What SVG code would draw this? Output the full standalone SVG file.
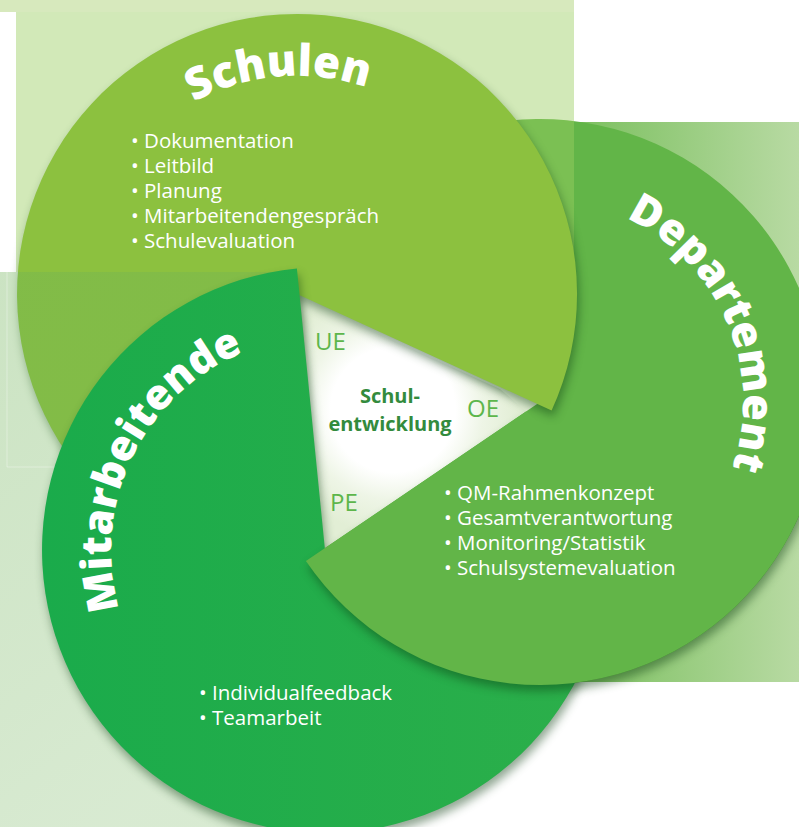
<svg xmlns="http://www.w3.org/2000/svg" width="799" height="827" viewBox="0 0 799 827">
<defs>
<style>
.t{font-family:"Open Sans","Noto Sans","Liberation Sans",sans-serif;fill:#fff;font-size:20.5px}
.title{font-family:"Open Sans","Noto Sans","Liberation Sans",sans-serif;font-weight:800;fill:#fff}
.abbr{font-family:"Open Sans","Noto Sans","Liberation Sans",sans-serif;font-size:24px;fill:#5db64b}
.core{font-family:"Open Sans","Noto Sans","Liberation Sans",sans-serif;font-weight:700;font-size:20px;fill:#338b3d;text-anchor:middle}
</style>
<linearGradient id="gRight" x1="0" y1="0" x2="1" y2="0"><stop offset="0" stop-color="#6cb94e"/><stop offset="1" stop-color="#b8daa3"/></linearGradient>
<linearGradient id="gLeft" x1="0" y1="0" x2="0.4" y2="1"><stop offset="0" stop-color="#6fb257" stop-opacity="0.36"/><stop offset="1" stop-color="#6fb257" stop-opacity="0.27"/></linearGradient>
<linearGradient id="gMit" x1="0" y1="0" x2="1" y2="0"><stop offset="0" stop-color="#1aab4b"/><stop offset="1" stop-color="#2caf4a"/></linearGradient>
<radialGradient id="gCore" cx="393" cy="410" r="125" gradientUnits="userSpaceOnUse"><stop offset="0" stop-color="#fff"/><stop offset="0.5" stop-color="#fff"/><stop offset="0.72" stop-color="#eef5e6"/><stop offset="1" stop-color="#e2eed5"/></radialGradient>
<filter id="sh" x="-10%" y="-10%" width="125%" height="125%" color-interpolation-filters="sRGB">
<feGaussianBlur in="SourceAlpha" stdDeviation="5"/>
<feOffset dx="2" dy="6" result="o"/>
<feFlood flood-color="#0b3d10" flood-opacity="0.45"/>
<feComposite in2="o" operator="in"/>
<feMerge><feMergeNode/><feMergeNode in="SourceGraphic"/></feMerge>
</filter>
<path id="pD" d="M540 402 L287.8 273.5 A283 283 0 1 1 305.9 561.1 Z"/>
<path id="pS" d="M297 294 L316.5 573.3 A280 280 0 1 1 551.6 410.6 Z"/>
<path id="pM" d="M325 550 L598.4 476.8 A283 283 0 1 1 296.9 268.4 Z"/>
<clipPath id="cpLow"><polygon points="0,162 500,389 585,462 799,462 799,827 0,827"/></clipPath>
<path id="arcS" d="M82.2 331.1 A218 218 0 1 1 515 294.8"/>
<path id="arcD" d="M444.7 222.8 A203 203 0 1 1 602.7 595.1"/>
<path id="arcM" d="M249 750.1 A214 214 0 1 1 434.6 366.2"/>
</defs>

<g id="background">
<rect x="519" y="122" width="280" height="560" fill="url(#gRight)"/>
<polygon points="294,260 566,415 318,585" fill="url(#gCore)"/>
</g>

<g id="departement-base">
<use href="#pD" fill="#62b548"/>
</g>

<g id="top-panel">
<rect x="16" y="0" width="558" height="272" fill="#9bce62" fill-opacity="0.45"/>
<rect x="0" y="0" width="574" height="12" fill="#d7e9bd"/>
</g>

<g id="schulen">
<use href="#pS" fill="#8cc13f" filter="url(#sh)"/>
<text class="title" font-size="44"><textPath href="#arcS" startOffset="50%" text-anchor="middle">Schulen</textPath></text>
<text class="t" x="131" y="148">• Dokumentation</text>
<text class="t" x="131" y="173">• Leitbild</text>
<text class="t" x="131" y="198">• Planung</text>
<text class="t" x="131" y="223">• Mitarbeitendengespräch</text>
<text class="t" x="131" y="248">• Schulevaluation</text>
</g>

<g id="left-panel">
<rect x="0" y="272" width="297" height="555" fill="url(#gLeft)"/>
<path d="M7 272 V467 H60" fill="none" stroke="#ffffff" stroke-opacity="0.35" stroke-width="1"/>
</g>

<g id="mitarbeitende">
<use href="#pM" fill="url(#gMit)" filter="url(#sh)"/>
<text class="title" font-size="42"><textPath href="#arcM" startOffset="50%" text-anchor="middle">Mitarbeitende</textPath></text>
<text class="t" x="199" y="700">• Individualfeedback</text>
<text class="t" x="199" y="725">• Teamarbeit</text>
</g>

<g id="departement">
<g clip-path="url(#cpLow)"><use href="#pD" fill="#62b548" filter="url(#sh)"/></g>
<text class="title" font-size="43"><textPath href="#arcD" startOffset="50%" text-anchor="middle">Departement</textPath></text>
<text class="t" x="444" y="500">• QM-Rahmenkonzept</text>
<text class="t" x="444" y="525">• Gesamtverantwortung</text>
<text class="t" x="444" y="550">• Monitoring/Statistik</text>
<text class="t" x="444" y="575">• Schulsystemevaluation</text>
</g>

<g id="schulentwicklung">
<text class="abbr" x="315" y="350">UE</text>
<text class="abbr" x="467" y="417">OE</text>
<text class="abbr" x="330" y="511">PE</text>
<text class="core" x="390" y="403">Schul-</text>
<text class="core" x="390" y="431">entwicklung</text>
</g>
</svg>
